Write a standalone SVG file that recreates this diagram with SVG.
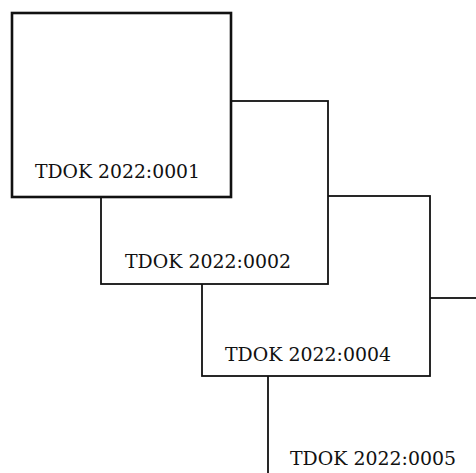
<svg xmlns="http://www.w3.org/2000/svg" width="476" height="473" viewBox="0 0 476 473">
  <style>
    .box { fill: #ffffff; stroke: #111111; stroke-width: 1.8; }
    .front { stroke-width: 2.6; }
    .lbl { font-family: "DejaVu Serif", "Liberation Serif", serif; font-size: 18.5px; fill: #111111; }
  </style>
  <rect width="476" height="473" fill="#ffffff"/>
  <g id="connectors"></g>
  <g id="node-0005">
    <rect class="box" x="268" y="298" width="228" height="200"/>
    <text class="lbl" x="290" y="465" textLength="166" lengthAdjust="spacingAndGlyphs">TDOK 2022:0005</text>
  </g>
  <g id="node-0004">
    <rect class="box" x="202" y="196" width="228" height="180"/>
    <text class="lbl" x="225" y="361" textLength="166" lengthAdjust="spacingAndGlyphs">TDOK 2022:0004</text>
  </g>
  <g id="node-0002">
    <rect class="box" x="101" y="101" width="227" height="183"/>
    <text class="lbl" x="125" y="268" textLength="166" lengthAdjust="spacingAndGlyphs">TDOK 2022:0002</text>
  </g>
  <g id="node-0001">
    <rect class="box front" x="12" y="13" width="219" height="184"/>
    <text class="lbl" x="35" y="178" textLength="165" lengthAdjust="spacingAndGlyphs">TDOK 2022:0001</text>
  </g>
</svg>
